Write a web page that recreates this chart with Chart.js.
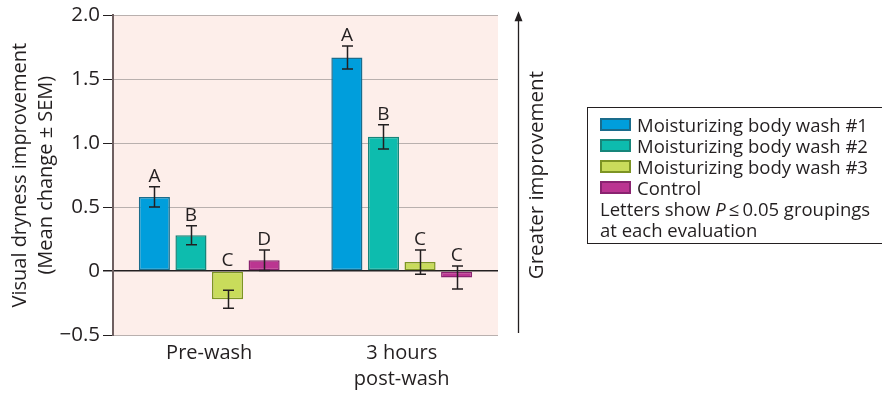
<!DOCTYPE html>
<html>
<head>
<meta charset="utf-8">
<title>Visual dryness improvement</title>
<script src="https://cdn.jsdelivr.net/npm/chart.js@4.4.0/dist/chart.umd.min.js"></script>
<style>
  html, body { margin: 0; padding: 0; background: #fff; }
  #wrap { position: relative; width: 882px; height: 393px; overflow: hidden; }
  #legend {
    position: absolute; left: 587px; top: 107px; width: 320px; height: 137px;
    box-sizing: border-box; border: 1px solid #231f20;
    padding: 6px 0 0 12px;
    font-family: "Open Sans", sans-serif; font-size: 18.5px; line-height: 21px; color: #231f20;
  }
  #legend .row { display: flex; align-items: center; height: 21px; white-space: nowrap; }
  #legend .sw { width: 27px; height: 9px; margin-right: 6px; border: 2px solid; }
  #legend .note { white-space: nowrap; }
</style>
</head>
<body>
<div id="wrap">
  <canvas id="chart" width="882" height="393"></canvas>
  <div id="legend"></div>
</div>
<script>
// data
var categories = ["Pre-wash", ["3 hours", "post-wash"]];
var seriesNames = ["Moisturizing body wash #1", "Moisturizing body wash #2", "Moisturizing body wash #3", "Control"];
var wash1 = [0.58, 1.67];
var wash2 = [0.28, 1.05];
var wash3 = [-0.22, 0.07];
var control = [0.085, -0.05];
var sem1 = [0.08, 0.09];
var sem2 = [0.075, 0.095];
var sem3 = [0.07, 0.095];
var semControl = [0.08, 0.09];
var letters1 = ["A", "A"];
var letters2 = ["B", "B"];
var letters3 = ["C", "C"];
var lettersControl = ["D", "C"];
var yTicks = [-0.5, 0, 0.5, 1.0, 1.5, 2.0];

var fillColors = ["#009edc", "#0dbcae", "#c9dc5b", "#bb3591"];
var edgeColors = ["#1a6c8c", "#17857a", "#7d9424", "#8a2370"];
var ink = "#231f20";
var font = "'Open Sans', sans-serif";

var values = [wash1, wash2, wash3, control];
var sems = [sem1, sem2, sem3, semControl];
var letters = [letters1, letters2, letters3, lettersControl];

var datasets = seriesNames.map(function(name, i) {
  return {
    label: name,
    data: values[i],
    errors: sems[i],
    letters: letters[i],
    backgroundColor: fillColors[i],
    borderColor: edgeColors[i],
    borderWidth: 1.5,
    borderSkipped: false,
    categoryPercentage: 0.76,
    barPercentage: 0.85
  };
});

// pink plot background
var plotBg = {
  id: "plotBg",
  beforeDraw: function(chart) {
    var a = chart.chartArea, ctx = chart.ctx;
    ctx.save();
    ctx.fillStyle = "#fdeeea";
    ctx.fillRect(a.left, a.top, a.right - a.left, a.bottom - a.top);
    ctx.restore();
  }
};

// error bars and group letters
var errorBars = {
  id: "errorBars",
  afterDatasetsDraw: function(chart) {
    var ctx = chart.ctx, y = chart.scales.y;
    var zero = y.getPixelForValue(0);
    ctx.save();
    ctx.strokeStyle = ink;
    ctx.fillStyle = ink;
    ctx.lineWidth = 1.5;
    ctx.font = "19px " + font;
    ctx.textAlign = "center";
    ctx.textBaseline = "alphabetic";
    chart.data.datasets.forEach(function(ds, i) {
      chart.getDatasetMeta(i).data.forEach(function(bar, j) {
        var v = ds.data[j], e = ds.errors[j];
        var top = y.getPixelForValue(v + e), bot = y.getPixelForValue(v - e);
        var x = Math.round(bar.x) + 0.5;
        ctx.beginPath();
        ctx.moveTo(x, top); ctx.lineTo(x, bot);
        ctx.moveTo(x - 5.5, top); ctx.lineTo(x + 5.5, top);
        ctx.moveTo(x - 5.5, bot); ctx.lineTo(x + 5.5, bot);
        ctx.stroke();
        ctx.fillText(ds.letters[j], bar.x, Math.min(top, zero) - 5);
      });
    });
    ctx.restore();
  }
};

// arrow and "Greater improvement" label on the right
var sideArrow = {
  id: "sideArrow",
  afterDraw: function(chart) {
    var ctx = chart.ctx, a = chart.chartArea;
    var x = a.right + 20.5;
    ctx.save();
    ctx.strokeStyle = ink;
    ctx.fillStyle = ink;
    ctx.lineWidth = 1.3;
    ctx.beginPath();
    ctx.moveTo(x, a.bottom - 2);
    ctx.lineTo(x, a.top + 4);
    ctx.stroke();
    ctx.beginPath();
    ctx.moveTo(x, a.top - 4);
    ctx.lineTo(x - 4, a.top + 6);
    ctx.lineTo(x + 4, a.top + 6);
    ctx.closePath();
    ctx.fill();
    ctx.translate(x + 19, (a.top + a.bottom) / 2);
    ctx.rotate(-Math.PI / 2);
    ctx.font = "20.5px " + font;
    ctx.textAlign = "center";
    ctx.textBaseline = "middle";
    ctx.fillText("Greater improvement", 0, 0);
    ctx.restore();
  }
};

function tickText(v) {
  if (v === 0) return "0";
  if (v < 0) return "\u2212" + Math.abs(v).toFixed(1);
  return v.toFixed(1);
}

var chart = new Chart(document.getElementById("chart").getContext("2d"), {
  type: "bar",
  data: { labels: categories, datasets: datasets },
  options: {
    responsive: false,
    animation: false,
    layout: { padding: { top: 15, right: 384, left: 0, bottom: 0 } },
    plugins: { legend: { display: false }, tooltip: { enabled: false } },
    scales: {
      x: {
        afterFit: function(s) { s.height = 58; },
        grid: { display: false, drawTicks: false },
        border: { display: false },
        ticks: { color: ink, padding: 5, font: { family: font, size: 20, lineHeight: "26px" } }
      },
      y: {
        min: -0.5,
        max: 2.0,
        afterFit: function(s) { s.width = 113; },
        afterBuildTicks: function(s) { s.ticks = yTicks.map(function(v) { return { value: v }; }); },
        border: { display: true, color: "#6e5f60", width: 2 },
        grid: {
          color: function(c) { return c.tick && c.tick.value === 0 ? ink : "#b9b0ae"; },
          lineWidth: function(c) { return c.tick && c.tick.value === 0 ? 1.5 : 1; },
          tickColor: ink,
          tickLength: 10
        },
        ticks: {
          color: ink,
          padding: 3,
          font: { family: font, size: 20.5 },
          callback: function(v) { return tickText(v); }
        },
        title: {
          display: true,
          text: ["Visual dryness improvement", "(Mean change \u00b1 SEM)"],
          color: ink,
          font: { family: font, size: 20, lineHeight: "26px" },
          padding: { top: 7, bottom: 0 }
        }
      }
    }
  },
  plugins: [plotBg, errorBars, sideArrow]
});

// legend built from the chart's datasets
var legendHtml = "";
chart.data.datasets.forEach(function(ds) {
  legendHtml += '<div class="row"><span class="sw" style="background:' + ds.backgroundColor +
    ';border-color:' + ds.borderColor + '"></span>' + ds.label + '</div>';
});
legendHtml += '<div class="note">Letters show <i>P</i>\u2009\u2264\u20090.05 groupings</div>';
legendHtml += '<div class="note">at each evaluation</div>';
document.getElementById("legend").innerHTML = legendHtml;
</script>
</body>
</html>
